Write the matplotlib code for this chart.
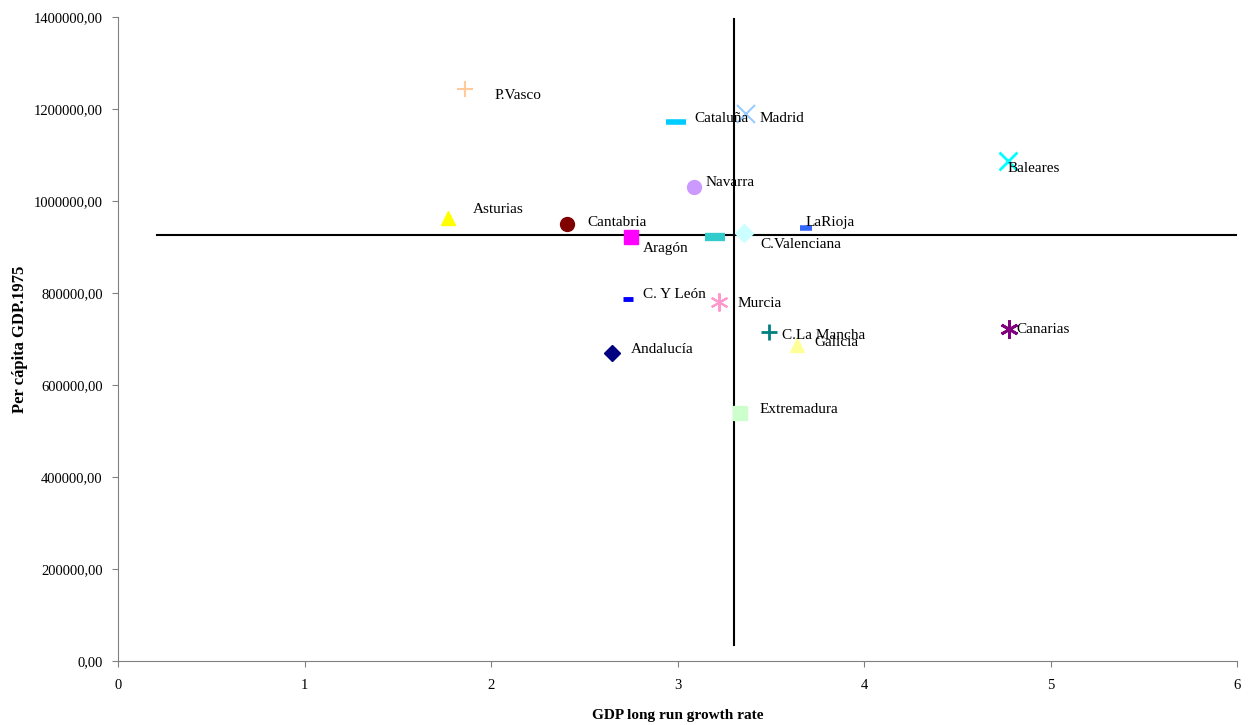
import matplotlib
matplotlib.use("Agg")
import matplotlib.pyplot as plt
from matplotlib.ticker import FuncFormatter

regions = ["P.Vasco", "Cataluña", "Madrid", "Baleares", "Navarra", "Asturias",
           "Cantabria", "Aragón", "C.Valenciana", "", "LaRioja", "C. Y León",
           "Murcia", "Andalucía", "C.La Mancha", "Galicia", "Canarias", "Extremadura"]
growth = [1.861, 2.992, 3.367, 4.772, 3.088, 1.769, 2.408, 2.751, 3.357, 3.201,
          3.689, 2.735, 3.223, 2.649, 3.491, 3.641, 4.777, 3.335]
gdp1975 = [1243500, 1171700, 1189000, 1087000, 1030000, 963000, 950000, 922000,
           930000, 922000, 941000, 787000, 780000, 670000, 715000, 687000, 722000, 539000]

hline_x = [0.21, 6.0]
hline_y = [926000, 926000]
vline_x = [3.303, 3.303]
vline_y = [35000, 1396000]

markers = ['+', '_', 'x', 'x', 'o', '^', 'o', 's', 'D', '_', '_', '_', (6, 2, 0), 'D', '+', '^', (6, 2, 0), 's']
colors = ['#FFCC99', '#00CCFF', '#99CCFF', '#00FFFF', '#CC99FF', '#FFFF00', '#800000', '#FF00FF',
          '#CCFFFF', '#33CCCC', '#3366FF', '#0000FF', '#FF99CC', '#000080', '#008080', '#FFFF99',
          '#800080', '#CCFFCC']
sizes = [11, 14, 13, 13, 10, 10, 10, 10, 9, 14, 8, 7, 13, 8, 12, 10, 13, 10]
widths = [1.5, 4, 1.5, 2, 1, 1, 1, 1, 1, 6, 4, 3.5, 1.5, 1, 2, 1, 2, 1]
offsets = [(29, -7), (18, 4), (14, -4), (0, -8), (12, 5), (25, 9), (20, 2), (12, -12),
           (16, -11), (0, 0), (0, 6), (15, 4), (18, -1), (19, 3), (13, -3), (17, 2), (7, -1), (20, 4)]

fig = plt.figure(figsize=(12.59, 7.25), dpi=100)
ax = fig.add_axes([118/1259, 64/725, 1119/1259, 644/725])

ax.plot(hline_x, hline_y, color='black', lw=1.5, zorder=1)
ax.plot(vline_x, vline_y, color='black', lw=1.5, zorder=1)

for i in range(len(regions)):
    ax.plot(growth[i], gdp1975[i], linestyle='none', marker=markers[i], color=colors[i],
            markersize=sizes[i], markeredgewidth=widths[i], markeredgecolor=colors[i], zorder=3)
    if regions[i]:
        ax.annotate(regions[i], (growth[i], gdp1975[i]), xytext=offsets[i],
                    textcoords='offset pixels', ha='left', va='center',
                    fontfamily='Liberation Serif', fontsize=11, color='black', zorder=4)

ax.set_xlim(0, 6)
ax.set_ylim(0, 1400000)
ax.set_xticks(range(0, 7))
ax.set_yticks(range(0, 1400001, 200000))
ax.yaxis.set_major_formatter(FuncFormatter(lambda v, p: f"{int(v)},00"))
for s in ['top', 'right']:
    ax.spines[s].set_visible(False)
for s in ['left', 'bottom']:
    ax.spines[s].set_color('#808080')
ax.tick_params(direction='out', length=4, color='#808080', labelsize=10.5)
ax.tick_params(axis='x', pad=9)
ax.tick_params(axis='y', pad=7)
for lbl in ax.get_xticklabels() + ax.get_yticklabels():
    lbl.set_fontfamily('Liberation Serif')

ax.set_xlabel('GDP long run growth rate', fontfamily='Liberation Serif', fontweight='bold',
              fontsize=11, labelpad=12)
ax.set_ylabel('Per cápita GDP.1975', fontfamily='Liberation Serif', fontweight='bold',
              fontsize=12, labelpad=4)

fig.savefig('out.png', dpi=100)
